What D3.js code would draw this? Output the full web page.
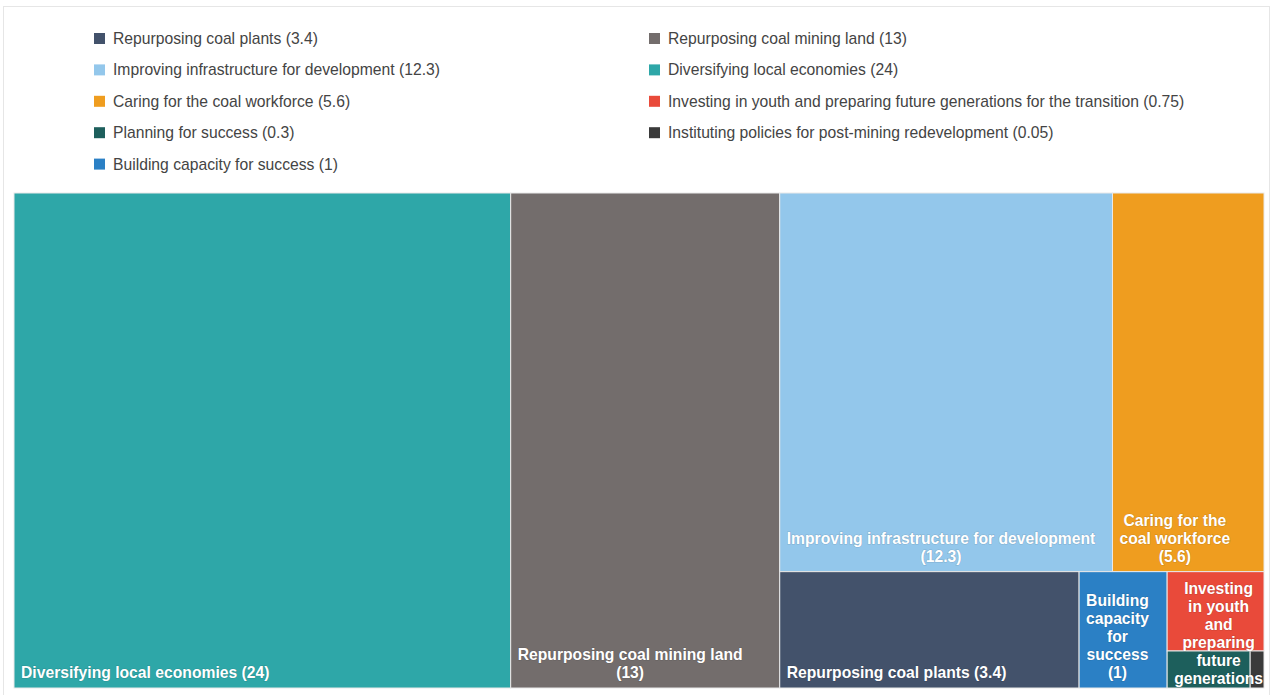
<!DOCTYPE html>
<html>
<head>
<meta charset="utf-8">
<script src="https://cdn.jsdelivr.net/npm/d3@7"></script>
<style>
  body { margin: 0; background: #fff; }
  svg { display: block; font-family: "Liberation Sans", Arial, Helvetica, sans-serif; }
</style>
</head>
<body>
<script>
// data, in legend order
var names = [
  'Repurposing coal plants',
  'Repurposing coal mining land',
  'Improving infrastructure for development',
  'Diversifying local economies',
  'Caring for the coal workforce',
  'Investing in youth and preparing future generations for the transition',
  'Planning for success',
  'Instituting policies for post-mining redevelopment',
  'Building capacity for success'
];
var values = [3.4, 13, 12.3, 24, 5.6, 0.75, 0.3, 0.05, 1];
var colors = ['#43526b', '#736d6c', '#93c7eb', '#2ea7a8', '#ef9d1f', '#e94a3a', '#1d5f5c', '#3a3a3a', '#2b80c5'];

var width = 1273, height = 695;
var fontSize = 15.7;
var svg = d3.select('body').append('svg').attr('width', width).attr('height', height);

// outer frame
svg.append('rect')
  .attr('x', 3.5).attr('y', 6.5)
  .attr('width', 1266).attr('height', 720)
  .attr('fill', '#fff').attr('stroke', '#e6e6e6');

// legend, two columns
var legendItems = svg.append('g').selectAll('g')
  .data(names)
  .enter().append('g')
  .attr('transform', function(d, i) {
    return 'translate(' + (i % 2 ? 649 : 94) + ',' + (38.5 + Math.floor(i / 2) * 31.4) + ')';
  });
legendItems.append('rect')
  .attr('x', 0).attr('y', -5.5)
  .attr('width', 11).attr('height', 11)
  .attr('fill', function(d, i) { return colors[i]; });
legendItems.append('text')
  .attr('x', 19).attr('dy', '0.35em')
  .attr('font-size', fontSize).attr('fill', '#444')
  .text(function(d, i) { return d + ' (' + values[i] + ')'; });

// strip tiling: cut along the shorter side, keep adding while the last cell gets squarer
var tileStrips = function(parent, x0, y0, x1, y1) {
  var nodes = parent.children, n = nodes.length, i = 0;
  var k = (x1 - x0) * (y1 - y0) / parent.value;
  var lastRatio = function(sum, v, side) {
    var t = sum * k / side, l = v * k / t;
    return Math.max(t / l, l / t);
  };
  while (i < n) {
    var dx = x1 - x0, dy = y1 - y0;
    var column = dx >= dy, side = column ? dy : dx;
    var sum = nodes[i].value, j = i + 1;
    while (j < n) {
      var last = nodes[j - 1].value;
      if (lastRatio(sum + nodes[j].value, last, side) > lastRatio(sum, last, side)) break;
      sum += nodes[j].value;
      j++;
    }
    var row = { children: nodes.slice(i, j), value: sum };
    var t = sum * k / side;
    if (column) { d3.treemapSlice(row, x0, y0, x0 + t, y1); x0 += t; }
    else { d3.treemapDice(row, x0, y0, x1, y0 + t); y0 += t; }
    i = j;
  }
};

var plotW = 1250, plotH = 495;
var root = d3.hierarchy({ children: names.map(function(n, i) {
    return { name: n, value: values[i], color: colors[i] };
  }) })
  .sum(function(d) { return d.children ? 0 : d.value; })
  .sort(function(a, b) { return b.value - a.value; });

d3.treemap().size([plotW, plotH]).tile(tileStrips)(root);

var plot = svg.append('g').attr('transform', 'translate(14,193)');

svg.append('defs').append('clipPath').attr('id', 'plotclip')
  .append('rect').attr('width', plotW).attr('height', plotH);

plot.selectAll('rect.cell')
  .data(root.leaves())
  .enter().append('rect')
  .attr('class', 'cell')
  .attr('x', function(d) { return d.x0; })
  .attr('y', function(d) { return d.y0; })
  .attr('width', function(d) { return d.x1 - d.x0; })
  .attr('height', function(d) { return d.y1 - d.y0; })
  .attr('fill', function(d) { return d.data.color; })
  .attr('stroke', '#e9e9e9')
  .attr('stroke-width', 1);

// labels
var labels = plot.append('g').attr('clip-path', 'url(#plotclip)');
var measure = labels.append('text').attr('font-size', fontSize).attr('font-weight', 'bold');
var textWidth = function(s) { measure.text(s); return measure.node().getComputedTextLength(); };

root.leaves().forEach(function(d) {
  var w = d.x1 - d.x0, h = d.y1 - d.y0;
  if (w < 40 || h < 40) return;
  var avail = w - 16;
  var words = (d.data.name + ' (' + d.data.value + ')').split(' ');
  var lines = [], cur = '';
  words.forEach(function(word) {
    var test = cur ? cur + ' ' + word : word;
    if (cur && textWidth(test) > avail) { lines.push(cur); cur = word; }
    else cur = test;
  });
  lines.push(cur);
  var bw = d3.max(lines, textWidth);
  var lineH = 18;
  var first = d.y1 - 10 - (lines.length - 1) * lineH;
  if (first - 14 < d.y0 + 6) first = d.y0 + 22;
  var t = labels.append('text')
    .attr('font-size', fontSize).attr('font-weight', 'bold')
    .attr('fill', '#fff')
    .attr('text-anchor', 'middle')
    .attr('stroke', 'rgba(0,0,0,0.15)').attr('stroke-width', 1.2)
    .attr('paint-order', 'stroke');
  lines.forEach(function(line, i) {
    t.append('tspan')
      .attr('x', d.x0 + 7 + bw / 2)
      .attr('y', first + i * lineH)
      .text(line);
  });
});
measure.remove();
</script>
</body>
</html>
